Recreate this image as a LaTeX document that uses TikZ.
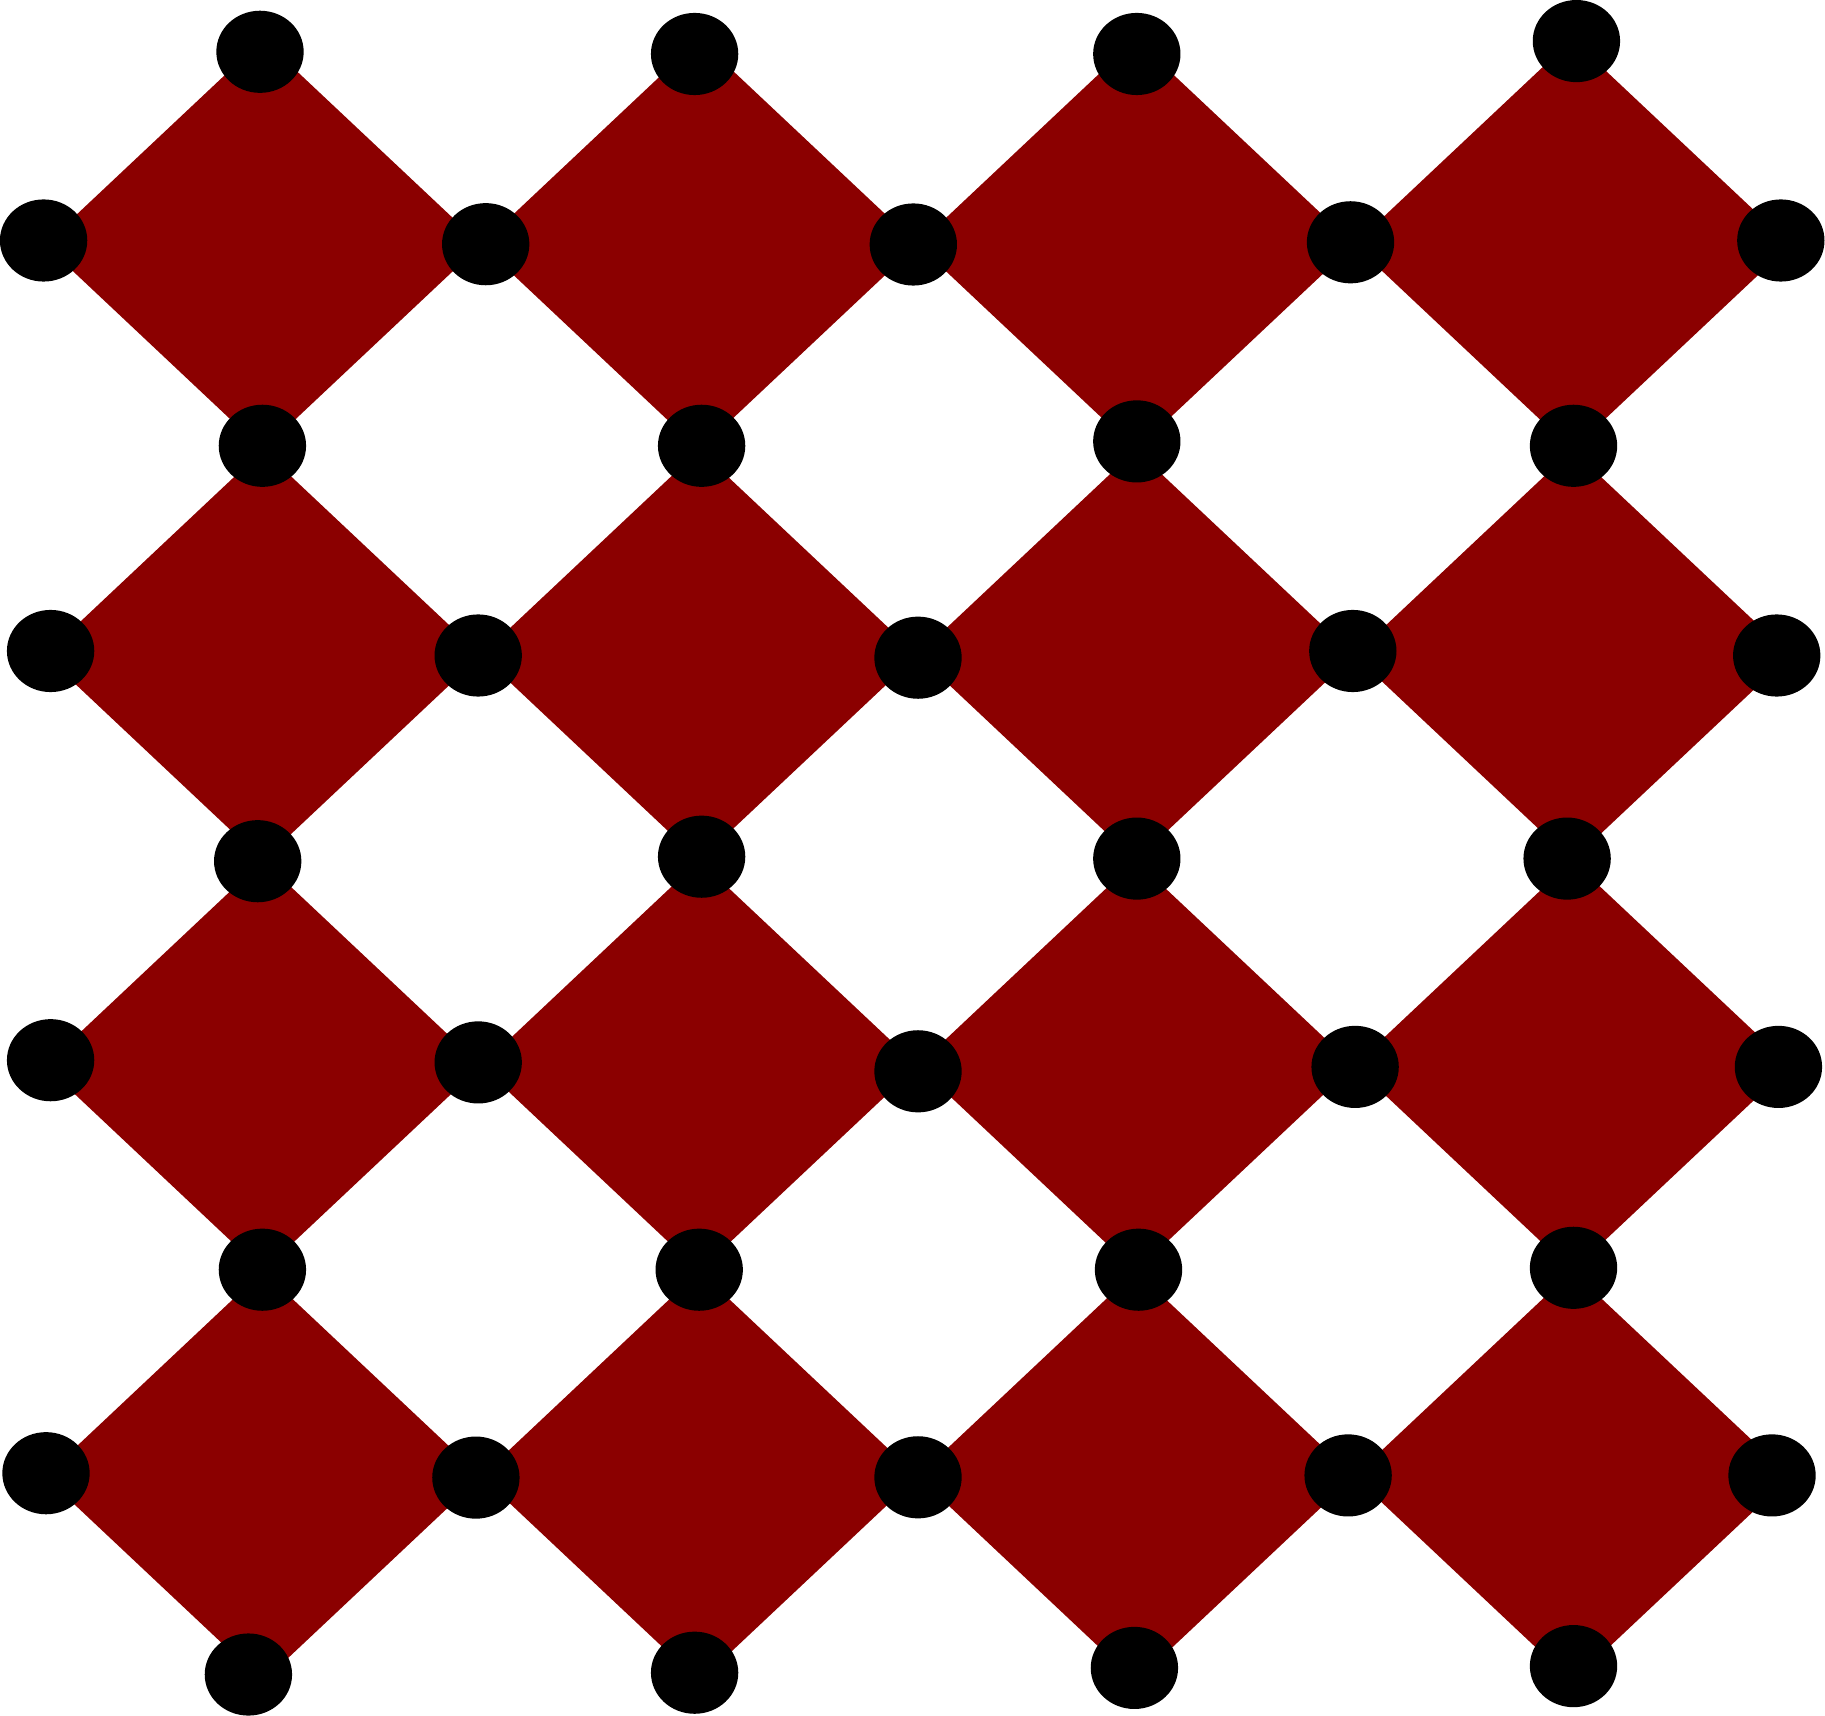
\documentclass[tikz,border=0pt]{standalone}
\usetikzlibrary{shapes.geometric}
\definecolor{dred}{HTML}{8B0000}
\tikzset{dot/.style={ellipse,fill=black,minimum width=0.873cm,minimum height=0.821cm,inner sep=0pt}}
\begin{document}
\begin{tikzpicture}[x=0.01cm,y=-0.01cm]
\useasboundingbox (0,0) rectangle (1825,1716);
% lattice vertices of the red diamonds
\foreach \r in {0,2,4,6,8}{
  \foreach \c in {0,1,2,3}{
    \coordinate (v\r-\c) at ({262.9+436.45*\c},{39.3+205.3*\r});
  }
}
\foreach \r in {1,3,5,7}{
  \foreach \c in {0,1,2,3,4}{
    \coordinate (v\r-\c) at ({44.7+436.45*\c},{39.3+205.3*\r});
  }
}
% red diamonds
\foreach \b [evaluate=\b as \t using int(2*\b), evaluate=\b as \m using int(2*\b+1), evaluate=\b as \u using int(2*\b+2)] in {0,1,2,3}{
  \foreach \k [evaluate=\k as \kk using int(\k+1)] in {0,1,2,3}{
    \fill[dred] (v\t-\k) -- (v\m-\k) -- (v\u-\k) -- (v\m-\kk) -- cycle;
  }
}
% row 0
\node[dot] (n0-0) at (260.0,51.8) {};
\node[dot] (n0-1) at (694.6,54.0) {};
\node[dot] (n0-2) at (1136.8,54.0) {};
\node[dot] (n0-3) at (1576.4,41.1) {};
% row 1
\node[dot] (n1-0) at (43.6,240.5) {};
\node[dot] (n1-1) at (485.7,244.2) {};
\node[dot] (n1-2) at (913.3,244.5) {};
\node[dot] (n1-3) at (1350.5,242.3) {};
\node[dot] (n1-4) at (1780.8,240.5) {};
% row 2
\node[dot] (n2-0) at (262.4,445.8) {};
\node[dot] (n2-1) at (701.6,445.8) {};
\node[dot] (n2-2) at (1136.8,441.4) {};
\node[dot] (n2-3) at (1573.5,445.8) {};
% row 3
\node[dot] (n3-0) at (50.6,651.0) {};
\node[dot] (n3-1) at (478.2,655.5) {};
\node[dot] (n3-2) at (918.0,657.7) {};
\node[dot] (n3-3) at (1352.8,651.0) {};
\node[dot] (n3-4) at (1776.7,655.5) {};
% row 4
\node[dot] (n4-0) at (257.7,861.2) {};
\node[dot] (n4-1) at (701.6,856.7) {};
\node[dot] (n4-2) at (1136.8,858.6) {};
\node[dot] (n4-3) at (1567.1,858.6) {};
% row 5
\node[dot] (n5-0) at (50.6,1060.2) {};
\node[dot] (n5-1) at (478.2,1062.4) {};
\node[dot] (n5-2) at (918.0,1071.3) {};
\node[dot] (n5-3) at (1355.1,1066.9) {};
\node[dot] (n5-4) at (1778.4,1066.9) {};
% row 6
\node[dot] (n6-0) at (262.4,1269.7) {};
\node[dot] (n6-1) at (699.2,1269.7) {};
\node[dot] (n6-2) at (1138.5,1269.7) {};
\node[dot] (n6-3) at (1573.5,1267.8) {};
% row 7
\node[dot] (n7-0) at (46.0,1473.2) {};
\node[dot] (n7-1) at (475.9,1477.6) {};
\node[dot] (n7-2) at (918.0,1477.3) {};
\node[dot] (n7-3) at (1348.1,1475.4) {};
\node[dot] (n7-4) at (1772.0,1475.4) {};
% row 8
\node[dot] (n8-0) at (248.4,1674.5) {};
\node[dot] (n8-1) at (694.6,1672.7) {};
\node[dot] (n8-2) at (1134.4,1667.9) {};
\node[dot] (n8-3) at (1573.5,1666.1) {};
\end{tikzpicture}
\end{document}
